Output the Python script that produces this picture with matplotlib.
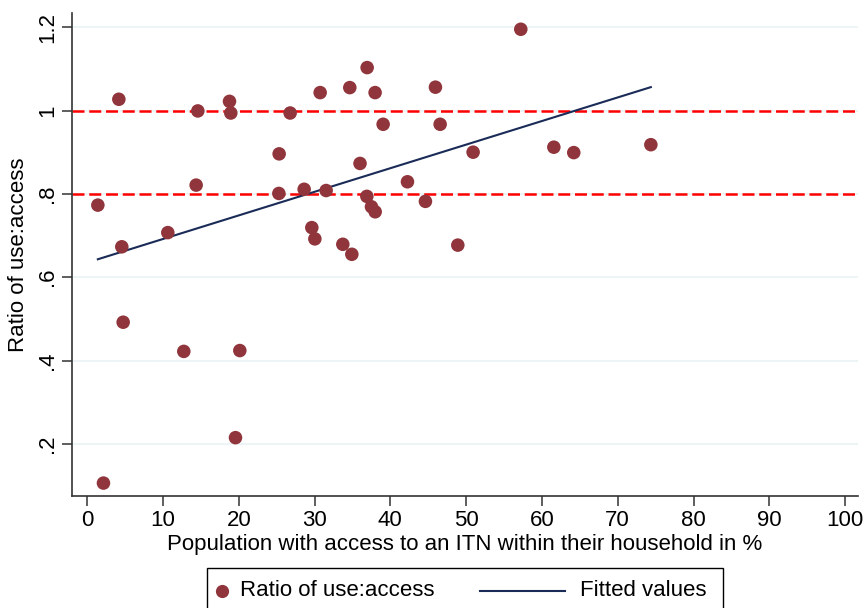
import numpy as np
import matplotlib
matplotlib.use("Agg")
import matplotlib.pyplot as plt
from matplotlib.lines import Line2D
from matplotlib.patches import Rectangle

plt.rcParams['font.family'] = ['Liberation Sans Narrow', 'Liberation Sans', 'DejaVu Sans']

access = [1.41, 4.18, 4.57, 4.75, 2.15, 10.64, 12.75, 14.38, 14.6, 18.78,
          18.95, 19.57, 20.14, 25.33, 25.29, 26.78, 28.63, 29.64, 30.04, 30.74,
          31.53, 33.73, 34.65, 34.92, 36.0, 36.94, 37.99, 39.05, 45.95, 46.57,
          57.21, 50.92, 61.57, 42.26, 36.9, 37.51, 38.0, 44.63, 48.9, 64.2, 74.37]
ratio = [0.773, 1.027, 0.673, 0.492, 0.106, 0.707, 0.422, 0.821, 0.999, 1.022,
         0.994, 0.215, 0.424, 0.896, 0.801, 0.994, 0.811, 0.719, 0.692, 1.043,
         0.808, 0.679, 1.055, 0.655, 0.873, 1.103, 1.043, 0.967, 1.056, 0.967,
         1.195, 0.900, 0.912, 0.829, 0.794, 0.769, 0.757, 0.782, 0.677, 0.899, 0.918]
ref_lines = [0.8, 1.0]
xticks = list(range(0, 101, 10))
yticks = [0.2, 0.4, 0.6, 0.8, 1.0, 1.2]
ytick_labels = ['.2', '.4', '.6', '.8', '1', '1.2']
legend_labels = ['Ratio of use:access', 'Fitted values']

x = np.array(access)
y = np.array(ratio)
b, a = np.polyfit(x, y, 1)
xs = np.array([x.min(), x.max()])
ys = a + b * xs

W, H = 863, 608
MARKER_C = '#90353b'
LINE_C = '#1a2b57'
fig = plt.figure(figsize=(W / 100, H / 100), dpi=100)
ax = fig.add_axes([72 / W, 1 - 496 / H, (858 - 72) / W, (496 - 13) / H])
ax.set_xlim(-2.0, 101.7)
ax.set_ylim(0.075, 1.234)

for t in yticks:
    ax.axhline(t, color='#eaf2f3', lw=1.2, zorder=0)
for r in ref_lines:
    ax.axhline(r, color='#ff0000', lw=1.8, dashes=(4.8, 1.9), zorder=1)

ax.scatter(x, y, s=95, color=MARKER_C, edgecolors='none', zorder=3)
ax.plot(xs, ys, color=LINE_C, lw=1.5, zorder=2)

for s in ['top', 'right']:
    ax.spines[s].set_visible(False)
for s in ['left', 'bottom']:
    ax.spines[s].set_linewidth(1.2)
    ax.spines[s].set_color('#333333')

ax.set_xticks(xticks)
ax.set_yticks(yticks)
ax.set_yticklabels(ytick_labels, rotation=90, va='center')
ax.tick_params(axis='both', labelsize=16, length=7, width=1.1, color='#333333')
ax.tick_params(axis='x', pad=3)
ax.tick_params(axis='y', pad=3)
ax.set_xlabel('Population with access to an ITN within their household in %', fontsize=16, labelpad=2)
ax.set_ylabel('Ratio of use:access', fontsize=16, labelpad=6)

# legend drawn in figure pixel coordinates
def fx(px):
    return px / W

def fy(py):
    return 1 - py / H

fig.add_artist(Rectangle((fx(207), fy(616)), fx(723) - fx(207), fy(568) - fy(616),
                         transform=fig.transFigure, facecolor='white',
                         edgecolor='black', lw=1.0))
fig.add_artist(Line2D([fx(222)], [fy(591)], marker='o', ls='none', color=MARKER_C,
                      markersize=9.5, markeredgewidth=0, transform=fig.transFigure))
fig.text(fx(240), fy(591), legend_labels[0], fontsize=16, va='center', ha='left')
fig.add_artist(Line2D([fx(480), fx(565)], [fy(591), fy(591)], color=LINE_C, lw=1.5,
                      transform=fig.transFigure))
fig.text(fx(580), fy(591), legend_labels[1], fontsize=16, va='center', ha='left')

fig.savefig('out.png', dpi=100)
